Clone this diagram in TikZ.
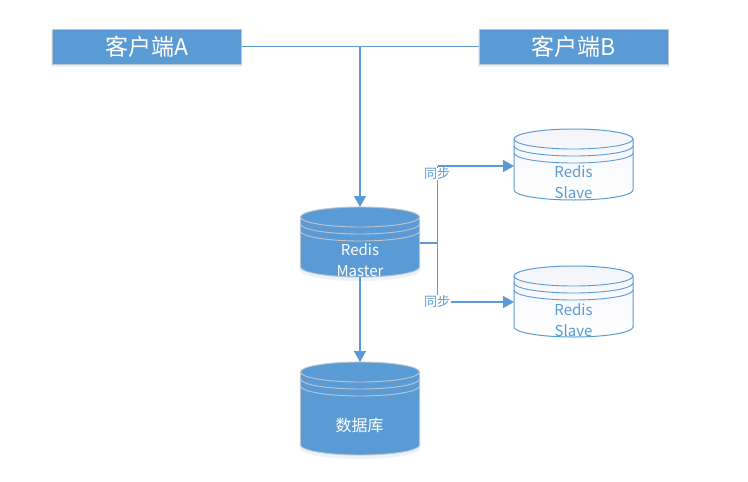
\documentclass[tikz,border=0pt]{standalone}
\usepackage{fontspec}
\setmainfont{Noto Sans CJK SC}
\usetikzlibrary{arrows.meta}
\definecolor{dbblue}{HTML}{5B9BD5}
\definecolor{ringgrey}{HTML}{BFC5CC}
\definecolor{pale}{HTML}{F3F5FB}
\tikzset{
  x=1pt,y=-1pt,
  conn/.style={draw=dbblue,line width=1.4pt},
  arr/.style={conn,-{Triangle[length=11pt,width=12pt]}},
  client/.style={fill=dbblue,draw=ringgrey,line width=1pt,text=white,font=\fontsize{23}{25}\selectfont,minimum width=189pt,minimum height=35pt,inner sep=0pt},
  synclabel/.style={fill=white,text=dbblue,font=\fontsize{13}{14}\selectfont,inner sep=0.5pt},
  dbfill/.style={fill=dbblue,draw=ringgrey,line width=0.9pt},
  dbopen/.style={top color=pale,bottom color=white,draw=dbblue,line width=1pt},
  dbtext/.style={font=\fontsize{15}{20.5}\selectfont,align=center,inner sep=0pt},
  dbcjk/.style={font=\fontsize{16}{20}\selectfont,align=center,inner sep=0pt},
  anchorbox/.style={minimum width=119pt,inner sep=0pt,outer sep=0pt}
}
% #1 name, #2 cx, #3 top, #4 bottom, #5 body style, #6 ring colour, #7 shadow opacity
\newcommand{\cylshape}[7]{%
  \pgfmathsetmacro{\cyt}{#3+10}%
  \pgfmathsetmacro{\cyb}{#4-10}%
  \pgfmathsetmacro{\cyl}{#2-59.5}%
  \pgfmathsetmacro{\cyr}{#2+59.5}%
  \pgfmathsetmacro{\cym}{(#3+#4)/2}%
  \pgfmathsetmacro{\cyh}{#4-#3}%
  \pgfmathsetmacro{\cya}{\cyt+7}%
  \pgfmathsetmacro{\cyc}{\cyt+14}%
  \fill[dbblue!35,opacity=#7] (\cyl-1,\cyt+3) -- (\cyl-1,\cyb+3) arc[start angle=180,end angle=360,x radius=60.5pt,y radius=11pt] -- (\cyr+1,\cyt+3) -- cycle;
  \path[#5] (\cyl,\cyt) arc[start angle=180,end angle=0,x radius=59.5pt,y radius=10pt]
     -- (\cyr,\cyb) arc[start angle=0,end angle=-180,x radius=59.5pt,y radius=10pt] -- cycle;
  \foreach \ry in {\cyt,\cya,\cyc}{
    \draw[#6,line width=0.9pt] (\cyl,\ry) arc[start angle=180,end angle=360,x radius=59.5pt,y radius=10pt];
  }
  \node[anchorbox,minimum height=\cyh pt] (#1) at (#2,\cym) {};
}
\begin{document}
\begin{tikzpicture}
\useasboundingbox (0,0) rectangle (748,482);
\fill[white] (0,0) rectangle (748,482);
% client shadows
\fill[dbblue!30,opacity=.45] (51,32) rectangle (242,67);
\fill[dbblue!30,opacity=.45] (478,32) rectangle (669,67);
\node[client] (cA) at (146.5,46.5) {客户端A};
\node[client] (cB) at (573.5,46.5) {客户端B};

\cylshape{master}{360}{207}{277}{dbfill}{ringgrey}{.35}
\cylshape{slaveA}{573.5}{129}{200}{dbopen}{dbblue}{0}
\cylshape{slaveB}{573.5}{266}{337}{dbopen}{dbblue}{0}
\cylshape{store}{360}{362}{455}{dbfill}{ringgrey}{.35}

\node[dbtext,text=white] (mt) at (360,260) {Redis\\Master};
\node[dbtext,text=dbblue] (sa) at (573.5,182) {Redis\\Slave};
\node[dbtext,text=dbblue] (sb) at (573.5,320) {Redis\\Slave};
\node[dbcjk,text=white] (dbt) at (359.5,425.5) {数据库};

\coordinate (hub) at (360,46.5);
\coordinate (split) at (437.5,243);
\coordinate (masterout) at (master.east |- split);
\coordinate (upA) at (437.5,166);
\coordinate (upB) at (437.5,302);
\coordinate (inA) at (slaveA.west |- upA);
\coordinate (inB) at (slaveB.west |- upB);

\draw[conn] (cA.east) -- (cB.west);
\draw[arr] (hub) -- (master.north);
\draw[arr] (master.south) -- (store.north);
\draw[conn] (masterout) -- (split);
\draw[conn] (upB) -- (upA);
\draw[arr] (upA) -- (inA);
\draw[arr] (upB) -- (inB);

\node[synclabel] (syncA) at (437,174) {同步};
\node[synclabel] (syncB) at (437,301.5) {同步};
\end{tikzpicture}
\end{document}
